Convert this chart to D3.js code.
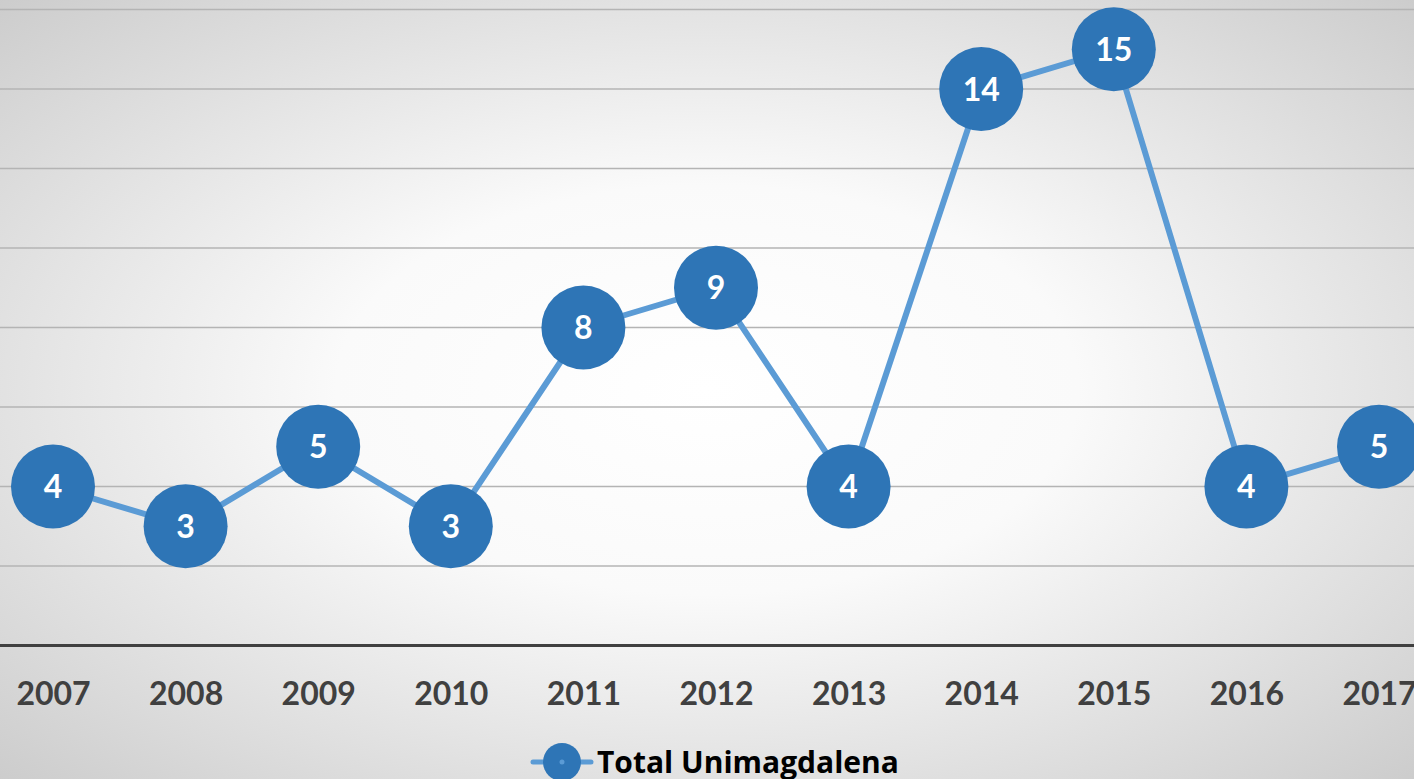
<!DOCTYPE html>
<html>
<head>
<meta charset="utf-8">
<script src="https://cdn.jsdelivr.net/npm/d3@7"></script>
<style>
html,body{margin:0;padding:0;overflow:hidden;}
svg{display:block;}
</style>
</head>
<body>
<svg id="chart" width="1414" height="779"></svg>
<script>
const years = ["2007","2008","2009","2010","2011","2012","2013","2014","2015","2016","2017"];
const values = [4,3,5,3,8,9,4,14,15,4,5];
const yTicks = [2,4,6,8,10,12,14,16];
const seriesName = "Total Unimagdalena";

const W = 1414, H = 779;
const svg = d3.select("#chart");
const defs = svg.append("defs");
const grad = defs.append("radialGradient").attr("id","bg")
  .attr("cx","50%").attr("cy","50%").attr("r","75%");
grad.append("stop").attr("offset","0%").attr("stop-color","#ffffff");
grad.append("stop").attr("offset","35%").attr("stop-color","#fafafa");
grad.append("stop").attr("offset","100%").attr("stop-color","#c8c8c8");
svg.append("rect").attr("width",W).attr("height",H).attr("fill","url(#bg)");

const x = d3.scalePoint().domain(years).range([-13.3, 1445.3]).padding(0.5);
const y = d3.scaleLinear().domain([0,16]).range([645.5, 9.5]);

// gridlines
svg.append("g").selectAll("line").data(yTicks).join("line")
  .attr("x1",0).attr("x2",W)
  .attr("y1",d=>y(d)).attr("y2",d=>y(d))
  .attr("stroke","#b4b4b4").attr("stroke-width",1.5);

// x axis
const xAxis = svg.append("g").attr("transform",`translate(0,${y(0)})`)
  .call(d3.axisBottom(x).tickSize(0).tickPadding(0));
xAxis.select(".domain").remove();
svg.append("line").attr("x1",0).attr("x2",W).attr("y1",y(0)).attr("y2",y(0))
  .attr("stroke","#404040").attr("stroke-width",3);
xAxis.selectAll("text")
  .attr("y",59).attr("dy",0)
  .attr("font-family","Lato, 'Open Sans', sans-serif")
  .attr("font-weight","bold").attr("font-size",32).attr("fill","#404040");

// line
const line = d3.line().x((d,i)=>x(years[i])).y(d=>y(d));
svg.append("path").datum(values).attr("d",line)
  .attr("fill","none").attr("stroke","#5b9bd5").attr("stroke-width",6)
  .attr("stroke-linejoin","round");

// markers
const pts = svg.append("g").selectAll("g").data(values).join("g")
  .attr("transform",(d,i)=>`translate(${x(years[i])},${y(d)})`);
pts.append("circle").attr("r",42).attr("fill","#2e75b6");
pts.append("text").text(d=>d)
  .attr("text-anchor","middle").attr("dy","0.36em")
  .attr("font-family","Lato, 'Open Sans', sans-serif")
  .attr("font-weight","bold").attr("font-size",32).attr("fill","#ffffff");

// legend
const lg = svg.append("g").attr("transform","translate(562,762)");
lg.append("line").attr("x1",-29).attr("x2",29).attr("y1",0).attr("y2",0)
  .attr("stroke","#5b9bd5").attr("stroke-width",5).attr("stroke-linecap","round");
lg.append("circle").attr("r",19).attr("fill","#2e75b6");
lg.append("circle").attr("r",2.5).attr("fill","#5b9bd5");
lg.append("text").text(seriesName).attr("x",35).attr("y",11)
  .attr("font-family","'Open Sans', Lato, sans-serif")
  .attr("font-weight","bold").attr("font-size",30).attr("fill","#000000");
</script>
</body>
</html>
